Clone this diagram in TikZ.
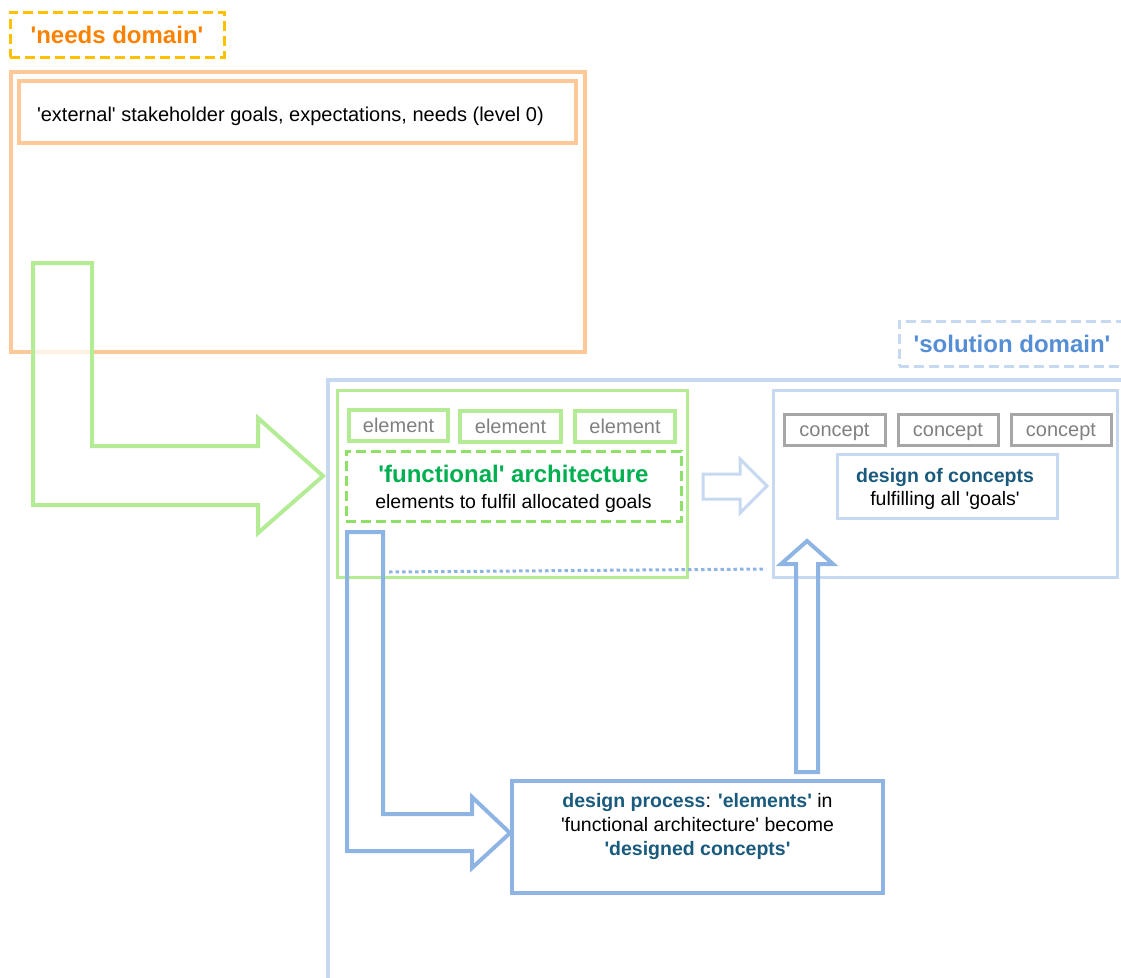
\documentclass[tikz,border=0pt]{standalone}
\usepackage{fontspec}
\setmainfont{Liberation Sans}
\newcommand\apo{\textquotesingle}
\definecolor{orangeline}{HTML}{FFC896}
\definecolor{needsdash}{HTML}{FFC000}
\definecolor{needstext}{HTML}{FA8200}
\definecolor{greenline}{HTML}{B4EC96}
\definecolor{greendash}{HTML}{8EE066}
\definecolor{greentitle}{HTML}{00B050}
\definecolor{bluelight}{HTML}{C6D9F1}
\definecolor{bluearrow}{HTML}{8EB4E3}
\definecolor{bluetext}{HTML}{558ED5}
\definecolor{tealtext}{HTML}{195A7D}
\definecolor{grayline}{HTML}{A6A6A6}
\definecolor{graytext}{HTML}{808080}
\begin{document}
\begin{tikzpicture}[x=1pt,y=-1pt,
  every node/.style={inner sep=0pt, outer sep=0pt, font=\fontsize{19.5}{23.5}\selectfont},
  frame/.style 2 args={draw, rectangle, minimum width=#1, minimum height=#2, align=center},
  domainlabel/.style={line width=3pt, dash pattern=on 10pt off 5pt, font=\fontsize{24}{28}\selectfont\bfseries},
  blockarrow/.style={line width=4pt, line join=miter, miter limit=10},
  elementbox/.style={line width=3.5pt, draw=greenline, text=graytext, text height=15pt, text depth=1pt, font=\fontsize{20}{24}\selectfont},
  conceptbox/.style={line width=3pt, draw=grayline, text=graytext, text height=15pt, text depth=1pt, font=\fontsize{20}{24}\selectfont}]
\useasboundingbox (0,0) rectangle (1121,977);
\clip (0,0) rectangle (1121,977);

% needs domain
\node[frame={214}{45}, domainlabel, draw=needsdash, text=needstext] (needslabel) at (117,34.5) {\apo needs domain\apo};
\node[frame={574}{280}, line width=4pt, draw=orangeline] (needsbox) at (298,212) {};
\node[frame={557}{62}, line width=4pt, draw=orangeline] (extbox) at (297.5,112) {};
\node[anchor=west, font=\fontsize{20}{24}\selectfont] (exttext) at (37,116) {\apo external\apo{} stakeholder goals, expectations, needs (level 0)};

% solution domain
\node[frame={226}{45}, domainlabel, draw=bluelight, text=bluetext] (sollabel) at (1012,343.5) {\apo solution domain\apo};
\node[frame={812}{610}, line width=4pt, draw=bluelight] (solbox) at (734,685) {};

% functional architecture
\node[frame={350}{187}, line width=3pt, draw=greenline] (funcbox) at (512,483.5) {};
\node[frame={99}{31}, elementbox] (el1) at (398.5,425.5) {element};
\node[frame={101}{31}, elementbox] (el2) at (510.5,426.5) {element};
\node[frame={100}{31}, elementbox] (el3) at (625,426.5) {element};
\node[frame={335}{70}, line width=3pt, draw=greendash, dash pattern=on 10pt off 5pt] (funcdash) at (513.5,486) {};
\node[align=center] (functext) at (513.5,489)
  {{\fontsize{24}{26}\selectfont\bfseries\color{greentitle}\apo functional\apo{} architecture}\\[2pt]elements to fulfil allocated goals};

% concepts
\node[frame={344}{187}, line width=3pt, draw=bluelight] (conceptarea) at (945,483.5) {};
\node[frame={101}{31}, conceptbox] (c1) at (834.5,429.5) {concept};
\node[frame={100}{31}, conceptbox] (c2) at (948,429.5) {concept};
\node[frame={100}{31}, conceptbox] (c3) at (1061,429.5) {concept};
\node[frame={220}{64}, line width=3pt, draw=bluelight] (designbox) at (947,486) {};
\node[align=center] (designtext) at (945,489)
  {{\bfseries\color{tealtext}design of concepts}\\fulfilling all \apo goals\apo};

% design process
\node[frame={371}{112}, line width=4pt, draw=bluearrow] (procbox) at (697.5,837) {};
\node[align=center, font=\fontsize{19.5}{24}\selectfont] (proctext) at (697.5,826)
  {{\bfseries\color{tealtext}design process}: {\bfseries\color{tealtext}\apo elements\apo} in\\
   \apo functional architecture\apo{} become\\
   {\bfseries\color{tealtext}\apo designed concepts\apo}};

% link between architecture and concepts
\coordinate (dotA) at (389,572);
\coordinate (dotB) at (766,569);
\draw[bluearrow, line width=3pt, dash pattern=on 3.5pt off 3pt] (dotA) -- (dotB);

% block arrows
\draw[blockarrow, draw=greenline, fill=white, fill opacity=0.75]
  (33,263) -- (92,263) -- (92,446) -- (258,446) -- (258,418) -- ([xshift=-5pt]solbox.west |- 0,476)
  -- (258,533) -- (258,505) -- (33,505) -- cycle;
\draw[blockarrow, line width=3pt, draw=bluelight]
  (703,474) -- (740,474) -- (740,459) -- ([xshift=-6pt]conceptarea.west |- 0,486) -- (740,513) -- (740,499) -- (703,499) -- cycle;
\draw[blockarrow, draw=bluearrow]
  (347,532) -- (383,532) -- (383,814) -- (472,814) -- (472,797) -- ([xshift=-2pt]procbox.west |- 0,833)
  -- (472,868) -- (472,851) -- (347,851) -- cycle;
\draw[blockarrow, draw=bluearrow]
  (796,772) -- (796,564) -- (781,564) -- (807,541) -- (833,564) -- (818,564) -- (818,772) -- cycle;
\end{tikzpicture}
\end{document}
